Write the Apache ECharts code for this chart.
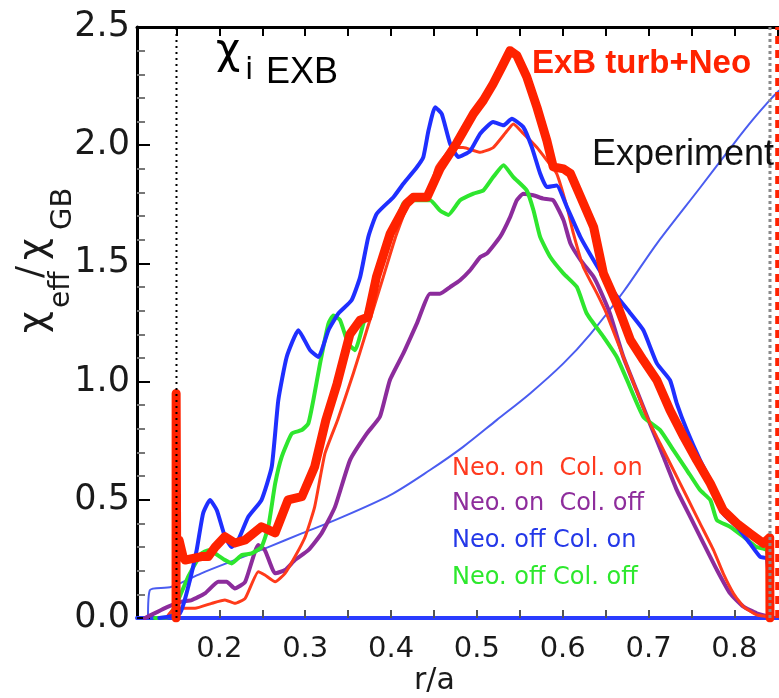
<!DOCTYPE html>
<html>
<head>
<meta charset="utf-8">
<script src="https://cdn.jsdelivr.net/npm/echarts@6/dist/echarts.min.js"></script>
<style>
html,body{margin:0;padding:0;background:#fff;}
#chart{width:779px;height:698px;}
</style>
</head>
<body>
<div id="chart"></div>
<script>
// ---------------- DATA ----------------
const xTickLabels = [0.2, 0.3, 0.4, 0.5, 0.6, 0.7, 0.8];
const xMinorTicks = [0.15, 0.2, 0.25, 0.3, 0.35, 0.4, 0.45, 0.5, 0.55, 0.6, 0.65, 0.7, 0.75, 0.8, 0.85];
const yTickLabels = [0.0, 0.5, 1.0, 1.5, 2.0, 2.5];

// thick red: ExB turb+Neo
const thickR = [0.1495, 0.1496, 0.1502, 0.153, 0.1576, 0.160, 0.179, 0.187, 0.195, 0.2065, 0.218, 0.230, 0.249, 0.265, 0.280, 0.296, 0.311, 0.324, 0.337, 0.352, 0.364, 0.373, 0.383, 0.399, 0.418, 0.426, 0.442, 0.457, 0.4766, 0.496, 0.5076, 0.519, 0.529, 0.5387, 0.5465, 0.558, 0.570, 0.5815, 0.589, 0.601, 0.609, 0.621, 0.636, 0.6475, 0.663, 0.679, 0.694, 0.7097, 0.725, 0.741, 0.756, 0.772, 0.787, 0.803, 0.818, 0.834, 0.8412, 0.8415];
const thickV = [0, 0.95, 0.30, 0.33, 0.26, 0.245, 0.26, 0.26, 0.30, 0.344, 0.317, 0.33, 0.386, 0.36, 0.50, 0.513, 0.64, 0.837, 0.99, 1.20, 1.26, 1.273, 1.443, 1.626, 1.753, 1.78, 1.78, 1.90, 2.01, 2.133, 2.19, 2.26, 2.33, 2.40, 2.38, 2.29, 2.16, 2.02, 1.908, 1.90, 1.88, 1.78, 1.654, 1.457, 1.33, 1.175, 1.09, 1.006, 0.879, 0.766, 0.668, 0.569, 0.456, 0.40, 0.358, 0.316, 0.34, 0];

// Neo. on Col. on (thin red)
const redR = [0.138, 0.148, 0.1716, 0.191, 0.2065, 0.218, 0.230, 0.2453, 0.253, 0.265, 0.2765, 0.288, 0.300, 0.311, 0.323, 0.338, 0.356, 0.3717, 0.391, 0.4066, 0.4256, 0.442, 0.453, 0.4726, 0.484, 0.504, 0.519, 0.535, 0.5425, 0.554, 0.570, 0.5815, 0.593, 0.605, 0.6125, 0.624, 0.640, 0.651, 0.698, 0.7135, 0.729, 0.7446, 0.760, 0.7757, 0.787, 0.799, 0.8106, 0.826, 0.842];
const redV = [0, 0.041, 0.041, 0.062, 0.076, 0.062, 0.083, 0.196, 0.182, 0.153, 0.189, 0.259, 0.344, 0.47, 0.696, 0.84, 1.034, 1.217, 1.443, 1.626, 1.78, 1.78, 1.907, 1.99, 1.99, 1.97, 1.99, 2.06, 2.09, 2.05, 1.99, 1.936, 1.88, 1.738, 1.626, 1.485, 1.372, 1.288, 0.851, 0.738, 0.626, 0.513, 0.40, 0.287, 0.189, 0.104, 0.048, 0.013, 0.005];

// Neo. on Col. off (purple)
const purpleR = [0.1133, 0.1404, 0.156, 0.1677, 0.1832, 0.1987, 0.2085, 0.218, 0.230, 0.2453, 0.253, 0.265, 0.2765, 0.288, 0.3036, 0.319, 0.3347, 0.3522, 0.3717, 0.387, 0.3986, 0.4143, 0.430, 0.4455, 0.457, 0.4688, 0.4804, 0.4921, 0.504, 0.5115, 0.527, 0.5387, 0.5465, 0.554, 0.5658, 0.5775, 0.589, 0.601, 0.609, 0.621, 0.636, 0.6437, 0.655, 0.6707, 0.686, 0.7015, 0.7174, 0.733, 0.7486, 0.764, 0.7797, 0.795, 0.8106, 0.826, 0.842];
const purpleV = [0, 0.048, 0.069, 0.076, 0.104, 0.153, 0.153, 0.125, 0.153, 0.309, 0.287, 0.189, 0.203, 0.245, 0.287, 0.358, 0.47, 0.668, 0.78, 0.851, 1.006, 1.119, 1.245, 1.372, 1.372, 1.40, 1.429, 1.471, 1.527, 1.541, 1.612, 1.696, 1.767, 1.795, 1.788, 1.774, 1.767, 1.682, 1.584, 1.513, 1.443, 1.386, 1.288, 1.104, 0.964, 0.823, 0.682, 0.541, 0.428, 0.316, 0.203, 0.104, 0.048, 0.02, 0.005];

// Neo. off Col. on (blue)
const blueR = [0.13, 0.154, 0.1637, 0.1735, 0.181, 0.189, 0.197, 0.2065, 0.2143, 0.222, 0.2337, 0.249, 0.261, 0.2686, 0.2784, 0.292, 0.3056, 0.3153, 0.327, 0.3386, 0.354, 0.364, 0.3735, 0.3833, 0.4027, 0.4143, 0.430, 0.4376, 0.4435, 0.4513, 0.459, 0.4688, 0.4784, 0.492, 0.504, 0.519, 0.531, 0.5407, 0.554, 0.564, 0.5737, 0.5815, 0.593, 0.605, 0.6205, 0.636, 0.655, 0.679, 0.694, 0.7097, 0.725, 0.733, 0.7446, 0.760, 0.7757, 0.787, 0.803, 0.818, 0.830, 0.838, 0.842];
const blueV = [0, 0.02, 0.132, 0.287, 0.4425, 0.499, 0.456, 0.344, 0.30, 0.33, 0.428, 0.499, 0.64, 0.92, 1.104, 1.217, 1.133, 1.104, 1.217, 1.288, 1.344, 1.443, 1.612, 1.71, 1.78, 1.837, 1.907, 1.95, 2.06, 2.161, 2.133, 2.006, 1.95, 1.975, 2.05, 2.098, 2.084, 2.112, 2.077, 1.992, 1.88, 1.823, 1.83, 1.738, 1.612, 1.513, 1.40, 1.288, 1.217, 1.077, 1.006, 0.907, 0.795, 0.668, 0.555, 0.4425, 0.386, 0.316, 0.259, 0.252, 0];

// Neo. off Col. off (green)
const greenR = [0.125, 0.1404, 0.152, 0.1637, 0.179, 0.187, 0.195, 0.2065, 0.2143, 0.226, 0.2376, 0.249, 0.257, 0.265, 0.2726, 0.2843, 0.296, 0.3036, 0.3094, 0.3173, 0.327, 0.3328, 0.3406, 0.350, 0.358, 0.3677, 0.3833, 0.399, 0.4143, 0.426, 0.4455, 0.457, 0.4668, 0.4804, 0.496, 0.5076, 0.519, 0.531, 0.5425, 0.558, 0.566, 0.5737, 0.5855, 0.601, 0.6165, 0.628, 0.6475, 0.663, 0.675, 0.694, 0.7135, 0.729, 0.7446, 0.760, 0.772, 0.7796, 0.795, 0.8106, 0.826, 0.838, 0.842];
const greenV = [0, 0.005, 0.076, 0.175, 0.273, 0.287, 0.273, 0.245, 0.231, 0.266, 0.273, 0.30, 0.386, 0.569, 0.682, 0.78, 0.795, 0.823, 0.921, 1.077, 1.245, 1.28, 1.26, 1.161, 1.133, 1.245, 1.443, 1.598, 1.753, 1.767, 1.767, 1.724, 1.705, 1.767, 1.795, 1.809, 1.865, 1.915, 1.865, 1.809, 1.724, 1.612, 1.527, 1.457, 1.40, 1.288, 1.189, 1.104, 1.006, 0.851, 0.795, 0.71, 0.626, 0.541, 0.499, 0.414, 0.386, 0.344, 0.30, 0.287, 0];

// Experiment (thin blue)
const expR = [0.1168, 0.119, 0.1444, 0.179, 0.218, 0.257, 0.296, 0.3347, 0.399, 0.4454, 0.484, 0.523, 0.562, 0.6008, 0.632, 0.6707, 0.7097, 0.760, 0.799, 0.822, 0.8437, 0.852];
const expV = [0, 0.118, 0.132, 0.189, 0.245, 0.30, 0.358, 0.414, 0.52, 0.626, 0.724, 0.837, 0.95, 1.077, 1.20, 1.38, 1.584, 1.82, 2.005, 2.11, 2.20, 2.23];

// boundary markers
const leftBoundary = 0.15;
const rightBoundary = 0.8415;
const rightEdgeDash = 0.8505;

const legendTexts = ['Neo. on  Col. on', 'Neo. on  Col. off', 'Neo. off Col. on', 'Neo. off Col. off'];

// ---------------- CHART ----------------
const zip = (a, b) => a.map((v, i) => [v, b[i]]);
const C_RED = '#ff2200', C_RED2 = '#ff3a1a', C_PUR = '#8c2c9c', C_BLUE = '#1f2fff', C_GREEN = '#2ee62e', C_EXP = '#4a5cf0';

function lineSeries(name, r, v, color, width, z, smooth) {
  return {
    name, type: 'line', data: zip(r, v), showSymbol: false, symbol: 'none',
    smooth: smooth, z: z, silent: true, animation: false,
    lineStyle: { color, width, join: 'round', cap: 'round' }
  };
}
function vline(x, y0, y1, color, width, type, z) {
  return {
    type: 'line', data: [[x, y0], [x, y1]], showSymbol: false, symbol: 'none', z: z,
    silent: true, animation: false, lineStyle: { color, width, type }
  };
}

const chart = echarts.init(document.getElementById('chart'), null, { renderer: 'canvas' });
const X_MIN = 0.104, X_MAX = 0.852;
const tickFont = 'DejaVu Sans';

const option = {
  backgroundColor: '#ffffff',
  animation: false,
  grid: { left: 137, right: 0, top: 27, bottom: 80, containLabel: false },
  xAxis: [{
    type: 'value', min: X_MIN, max: X_MAX, position: 'bottom',
    axisLine: { show: true, onZero: false, lineStyle: { color: '#2a3cff', width: 4 } },
    axisTick: { show: true, inside: true, length: 8, customValues: xMinorTicks, lineStyle: { color: '#555', width: 2 } },
    axisLabel: { show: true, customValues: xTickLabels, formatter: v => v.toFixed(1), margin: 17,
      fontFamily: tickFont, fontSize: 29, color: '#1a1a1a' },
    splitLine: { show: false }
  }, {
    type: 'value', min: X_MIN, max: X_MAX, position: 'top',
    axisLine: { show: true, onZero: false, lineStyle: { color: '#000', width: 3 } },
    axisTick: { show: true, inside: true, length: 9, customValues: xMinorTicks, lineStyle: { color: '#000', width: 2 } },
    axisLabel: { show: false }, splitLine: { show: false }
  }],
  yAxis: {
    type: 'value', min: 0, max: 2.5, interval: 0.5,
    axisLine: { show: true, onZero: false, lineStyle: { color: '#000', width: 3 } },
    axisTick: { show: true, inside: true, length: 13, lineStyle: { color: '#000', width: 2 } },
    minorTick: { show: true, splitNumber: 5, length: 8, lineStyle: { color: '#777', width: 2 } },
    axisLabel: { formatter: v => v.toFixed(1), margin: 7, fontFamily: tickFont, fontSize: 35, color: '#1a1a1a' },
    splitLine: { show: false }
  },
  series: [
    lineSeries('Experiment', expR, expV, C_EXP, 2, 2, 0.3),
    lineSeries('Neo. on Col. off', purpleR, purpleV, C_PUR, 4, 3, 0.15),
    lineSeries('Neo. off Col. off', greenR, greenV, C_GREEN, 4, 4, 0.15),
    lineSeries('Neo. on Col. on', redR, redV, C_RED2, 3, 5, 0.15),
    lineSeries('Neo. off Col. on', blueR, blueV, C_BLUE, 4, 5, 0.15),
    lineSeries('ExB turb+Neo', thickR, thickV, C_RED, 9, 6, false),
    vline(leftBoundary, 0, 2.5, '#000', 2, [2, 4], 8),
    vline(rightBoundary, 0, 2.5, '#8a8a8a', 3, [3, 3], 8),
    vline(rightEdgeDash, 0, 2.5, C_RED, 5, [8, 6], 7)
  ],
  graphic: [
    { type: 'text', left: 216, top: 31, z: 20, style: { text: 'χ', fill: '#000', font: '42px "DejaVu Sans"' } },
    { type: 'text', left: 245, top: 56, z: 20, style: { text: 'i', fill: '#000', font: '30px "DejaVu Sans"' } },
    { type: 'text', left: 266, top: 55, z: 20, style: { text: 'EXB', fill: '#000', font: '36px "Liberation Sans"' } },
    { type: 'text', left: 532, top: 47, z: 20, style: { text: 'ExB turb+Neo', fill: C_RED, font: 'bold 33px "Liberation Sans"' } },
    { type: 'text', left: 592, top: 137, z: 20, style: { text: 'Experiment', fill: '#111', font: '36px "Liberation Sans"' } },
    { type: 'text', left: 452, top: 457, z: 20, style: { text: legendTexts[0], fill: '#ff3a1f', font: '24px "DejaVu Sans"' } },
    { type: 'text', left: 452, top: 492, z: 20, style: { text: legendTexts[1], fill: '#8e2d9c', font: '24px "DejaVu Sans"' } },
    { type: 'text', left: 452, top: 529, z: 20, style: { text: legendTexts[2], fill: '#2438e8', font: '24px "DejaVu Sans"' } },
    { type: 'text', left: 452, top: 566, z: 20, style: { text: legendTexts[3], fill: '#2de82d', font: '24px "DejaVu Sans"' } },
    { type: 'text', left: 414, top: 666, z: 20, style: { text: 'r/a', fill: '#1a1a1a', font: '30px "DejaVu Sans"' } },
    { type: 'group', x: 46, y: 333, rotation: Math.PI / 2, z: 20, children: [
      { type: 'text', x: 0, y: -30, style: { text: 'χ', fill: '#1a1a1a', font: '38px "DejaVu Sans"' } },
      { type: 'text', x: 25, y: 2, style: { text: 'eff', fill: '#1a1a1a', font: '28px "DejaVu Sans"' } },
      { type: 'text', x: 55, y: -32, style: { text: '/', fill: '#1a1a1a', font: '36px "DejaVu Sans"' } },
      { type: 'text', x: 73, y: -30, style: { text: 'χ', fill: '#1a1a1a', font: '38px "DejaVu Sans"' } },
      { type: 'text', x: 103, y: 3, style: { text: 'GB', fill: '#1a1a1a', font: '29px "DejaVu Sans"' } }
    ]}
  ]
};
chart.setOption(option);
</script>
</body>
</html>
